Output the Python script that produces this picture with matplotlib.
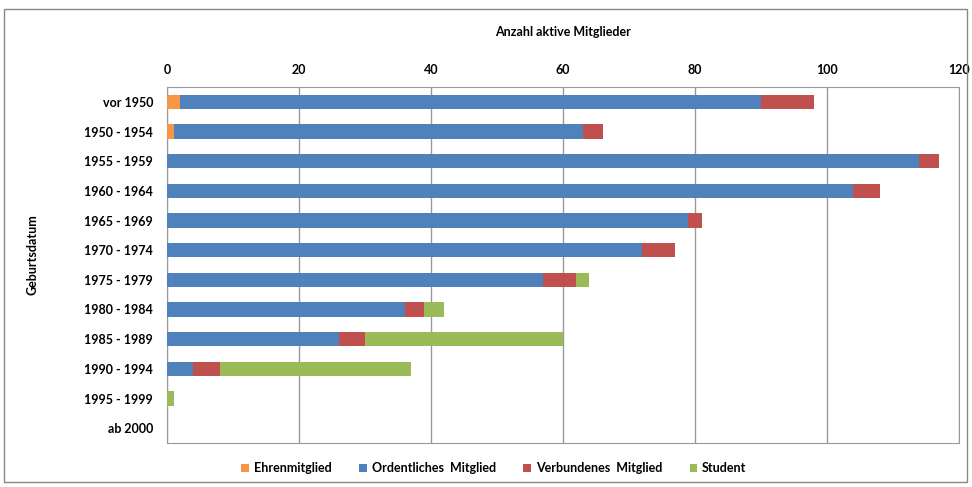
import matplotlib
matplotlib.use('Agg')
import matplotlib.pyplot as plt
import numpy as np
from matplotlib.patches import Rectangle

plt.rcParams['font.family'] = ['Lato', 'DejaVu Sans']

# Data
categories = ['vor 1950', '1950 - 1954', '1955 - 1959', '1960 - 1964', '1965 - 1969',
              '1970 - 1974', '1975 - 1979', '1980 - 1984', '1985 - 1989', '1990 - 1994',
              '1995 - 1999', 'ab 2000']
ehren = [2, 1, 0, 0, 0, 0, 0, 0, 0, 0, 0, 0]
ordentlich = [88, 62, 114, 104, 79, 72, 57, 36, 26, 4, 0, 0]
verbunden = [8, 3, 3, 4, 2, 5, 5, 3, 4, 4, 0, 0]
student = [0, 0, 0, 0, 0, 0, 2, 3, 30, 29, 1, 0]

series = [
    ('Ehrenmitglied', ehren, '#F79646'),
    ('Ordentliches  Mitglied', ordentlich, '#4F81BD'),
    ('Verbundenes  Mitglied', verbunden, '#C0504D'),
    ('Student', student, '#9BBB59'),
]

W, H = 972, 487
fig = plt.figure(figsize=(W / 100, H / 100), dpi=100)

# outer frame of the chart area
fig.patches.append(Rectangle((4 / W, 1 - 482 / H), 963 / W, 473 / H, transform=fig.transFigure,
                             fill=False, edgecolor='#888888', linewidth=1))

ax = fig.add_axes([167 / W, 1 - 443 / H, (959 - 167) / W, (443 - 87) / H])

y = np.arange(len(categories))
left = np.zeros(len(categories))
for name, vals, color in series:
    vals = np.array(vals, dtype=float)
    ax.barh(y, vals, left=left, height=0.48, color=color, label=name, zorder=3)
    left += vals

ax.set_xlim(0, 120)
ax.set_ylim(len(categories) - 0.5, -0.5)
ax.set_xticks(range(0, 121, 20))
ax.xaxis.tick_top()
ax.tick_params(axis='x', length=0, pad=8, labelsize=9)
ax.tick_params(axis='y', length=0, pad=10, labelsize=9)
for lab in ax.get_xticklabels() + ax.get_yticklabels():
    lab.set_fontweight('bold')
ax.set_yticks(y)
ax.set_yticklabels(categories)
ax.grid(axis='x', color='#999999', linewidth=1, zorder=0)
for sp in ax.spines.values():
    sp.set_color('#999999')

fig.text(563 / W, 1 - 32 / H, 'Anzahl aktive Mitglieder', ha='center', va='center',
         fontsize=9, fontweight='bold')
fig.text(32 / W, 1 - 255 / H, 'Geburtsdatum', ha='center', va='center', rotation=90,
         fontsize=9, fontweight='bold')

fig.legend(loc='center', bbox_to_anchor=(494 / W, 1 - 468 / H), ncol=4, frameon=False,
           handlelength=0.6, handleheight=0.6, handletextpad=0.4, columnspacing=2.2,
           prop={'size': 9, 'weight': 'bold'})

fig.savefig('out.png', dpi=100)
